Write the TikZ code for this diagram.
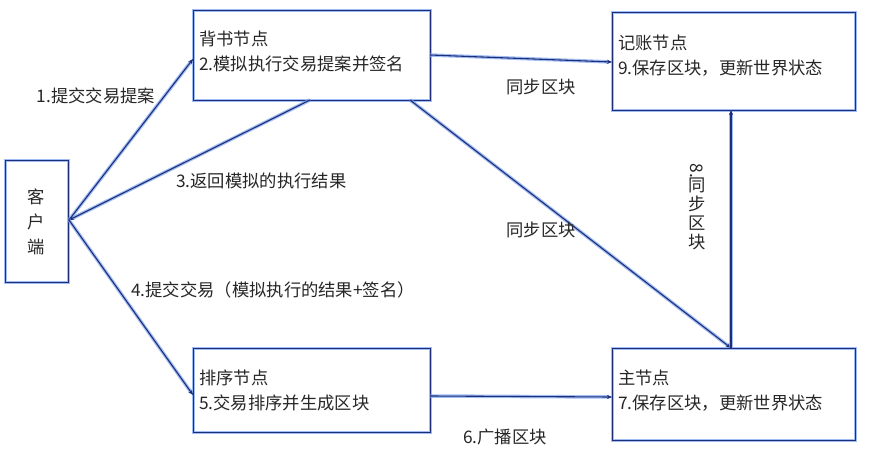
\documentclass[tikz,border=0pt]{standalone}
\usepackage{fontspec}
\newfontfamily\cjk{Noto Sans CJK SC}
\usetikzlibrary{arrows.meta}
\definecolor{navy}{RGB}{30,45,120}
\definecolor{glow}{RGB}{120,160,240}
\begin{document}
\begin{tikzpicture}[x=1pt,y=-1pt,font=\cjk\fontsize{17.3}{25}\selectfont,
  ln/.style={draw=navy,line width=1.1pt,preaction={draw=glow,line width=3.5pt,opacity=0.7}},
  bx/.style={ln,rectangle,anchor=north west,inner sep=0pt},
  ar/.style={ln,-{Stealth[length=5pt,width=4pt]}},
  tx/.style={text=black!85,inner sep=1pt}]
\useasboundingbox (0,0) rectangle (877,457);
\node[bx,minimum width=63pt,minimum height=122pt] (cl) at (5,160) {};
\node[tx,align=center] (clt) at (36,222) {客\\户\\端};
\node[bx,minimum width=237pt,minimum height=90pt] (en) at (193,10) {};
\node[tx,anchor=north west,align=left] (ent) at (198,30) {背书节点\\2.模拟执行交易提案并签名};
\node[bx,minimum width=243pt,minimum height=98pt] (le) at (612,12) {};
\node[tx,anchor=north west,align=left] (let) at (617,34) {记账节点\\9.保存区块，更新世界状态};
\node[bx,minimum width=237pt,minimum height=84pt] (or) at (193,348) {};
\node[tx,anchor=north west,align=left] (ort) at (198,369) {排序节点\\5.交易排序并生成区块};
\node[bx,minimum width=243pt,minimum height=92pt] (mn) at (612,348) {};
\node[tx,anchor=north west,align=left] (mnt) at (617,369) {主节点\\7.保存区块，更新世界状态};
\coordinate (c) at (69,220);
\coordinate (e1) at (193,59);
\coordinate (e3) at (310,100);
\coordinate (o4) at (193,395);
\coordinate (er) at (430,55);
\coordinate (lr) at (612,62);
\coordinate (eb) at (410,100);
\coordinate (mt) at (731,348);
\coordinate (lb) at (731,110);
\coordinate (orr) at (430,396);
\coordinate (ml) at (612,397);
\draw[ar] (c) -- (e1);
\draw[ar] (e3) -- (c);
\draw[ar] (c) -- (o4);
\draw[ar] (er) -- (lr);
\draw[ar] (eb) -- (mt);
\draw[ar] (mt) -- (lb);
\draw[ar] (orr) -- (ml);
\node[tx] (l1) at (96,96) {1.提交交易提案};
\node[tx,anchor=west] (l3) at (175,181) {3.返回模拟的执行结果};
\node[tx,anchor=west] (l4) at (130,290) {4.提交交易（模拟执行的结果+签名）};
\node[tx] (l6) at (505,437) {6.广播区块};
\node[tx] (s1) at (541,87) {同步区块};
\node[tx] (s2) at (541,230) {同步区块};
\node[tx,rotate=-90] (l8a) at (697,171) {8.};
\node[tx,align=center,anchor=north,font=\cjk\fontsize{17.3}{19}\selectfont] (l8b) at (697,177) {同\\步\\区\\块};
\end{tikzpicture}
\end{document}
